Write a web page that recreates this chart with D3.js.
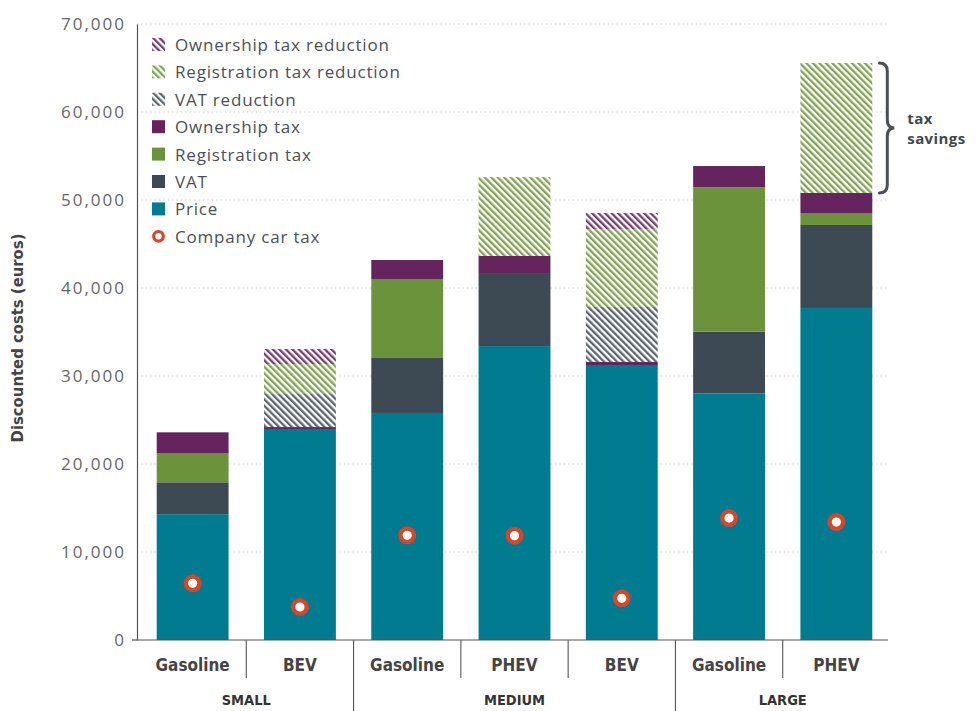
<!DOCTYPE html>
<html>
<head>
<meta charset="utf-8">
<script src="https://cdn.jsdelivr.net/npm/d3@7"></script>
<style>
    body { margin: 0; background: #fff; }
    svg { display: block; }
    .tick text { font-family: "Open Sans", sans-serif; }
</style>
</head>
<body>
<div id="root"></div>
<script>
// data (euros)
const categories = ["Gasoline", "BEV", "Gasoline", "PHEV", "BEV", "Gasoline", "PHEV"];
const groups = ["SMALL", "SMALL", "MEDIUM", "MEDIUM", "MEDIUM", "LARGE", "LARGE"];
const price    = [14300, 23980, 25800, 33400, 31250, 28030, 37730];
const vat      = [3620, 0, 6250, 8300, 0, 7010, 9430];
const regTax   = [3330, 0, 8970, 0, 0, 16400, 1360];
const ownTax   = [2350, 220, 2160, 1940, 350, 2420, 2280];
const vatRed   = [0, 3750, 0, 0, 6240, 0, 0];
const regRed   = [0, 3410, 0, 8960, 8860, 0, 14770];
const ownRed   = [0, 1710, 0, 0, 1820, 0, 0];
const companyCarTax = [6440, 3750, 11890, 11850, 4740, 13860, 13400];
const yTicks = [0, 10000, 20000, 30000, 40000, 50000, 60000, 70000];

const W = 976, H = 711;
const margin = { left: 137, right: 88, top: 24, bottom: 71 };

const svg = d3.select("#root").append("svg")
    .attr("width", W).attr("height", H);

const defs = svg.append("defs");
// hatch patterns, lines going down to the right
function hatch(id, color) {
    const p = defs.append("pattern")
        .attr("id", id)
        .attr("patternUnits", "userSpaceOnUse")
        .attr("width", 4.6).attr("height", 4.6)
        .attr("patternTransform", "rotate(-45)");
    p.append("rect").attr("width", 4.6).attr("height", 4.6).attr("fill", "#fff");
    p.append("rect").attr("width", 2.3).attr("height", 4.6).attr("fill", color);
}
hatch("h-own", "#7b3b73");
hatch("h-reg", "#7fa552");
hatch("h-vat", "#5b6570");

const series = [
    { key: "Price", values: price, fill: "#007b8f" },
    { key: "VAT", values: vat, fill: "#3e4a53" },
    { key: "Registration tax", values: regTax, fill: "#6b933b" },
    { key: "Ownership tax", values: ownTax, fill: "#66245f" },
    { key: "VAT reduction", values: vatRed, fill: "url(#h-vat)" },
    { key: "Registration tax reduction", values: regRed, fill: "url(#h-reg)" },
    { key: "Ownership tax reduction", values: ownRed, fill: "url(#h-own)" }
];

const x = d3.scaleBand()
    .domain(d3.range(categories.length))
    .range([margin.left + 2, W - margin.right + 2])
    .paddingInner(0.33).paddingOuter(0.165);

const y = d3.scaleLinear()
    .domain([0, 70000])
    .range([H - margin.bottom, margin.top]);

// dotted gridlines
svg.append("g").selectAll("line")
    .data(yTicks.filter(d => d > 0))
    .join("line")
    .attr("x1", margin.left).attr("x2", W - margin.right)
    .attr("y1", d => y(d)).attr("y2", d => y(d))
    .attr("stroke", "#c4c4c4")
    .attr("stroke-width", 1.2)
    .attr("stroke-dasharray", "1.2,3.2");

// stacked bars
const table = categories.map((c, i) => {
    const row = { i };
    series.forEach(s => row[s.key] = s.values[i]);
    return row;
});
const stacked = d3.stack().keys(series.map(s => s.key))(table);

svg.append("g").selectAll("g")
    .data(stacked)
    .join("g")
    .attr("fill", (d, k) => series[k].fill)
    .selectAll("rect")
    .data(d => d.filter(v => v[1] - v[0] > 0))
    .join("rect")
    .attr("x", d => x(d.data.i))
    .attr("width", x.bandwidth())
    .attr("y", d => y(d[1]))
    .attr("height", d => y(d[0]) - y(d[1]));

// company car tax markers
svg.append("g").selectAll("circle")
    .data(companyCarTax)
    .join("circle")
    .attr("cx", (d, i) => x(i) + x.bandwidth() * 0.5)
    .attr("cy", d => y(d))
    .attr("r", 6.8)
    .attr("fill", "#fff")
    .attr("stroke", "#d6462a")
    .attr("stroke-width", 4.4);

// y axis
const yAxis = d3.axisLeft(y)
    .tickValues(yTicks)
    .tickSize(0)
    .tickPadding(11)
    .tickFormat(d3.format(","));
const ya = svg.append("g")
    .attr("transform", `translate(${margin.left},0)`)
    .call(yAxis);
ya.select(".domain").attr("stroke", "#555").attr("stroke-width", 1.2);
ya.selectAll(".tick text")
    .attr("fill", "#666")
    .attr("font-size", 17)
    .attr("letter-spacing", 2);
// small tick at zero
svg.append("line")
    .attr("x1", margin.left - 5).attr("x2", margin.left)
    .attr("y1", y(0)).attr("y2", y(0))
    .attr("stroke", "#555").attr("stroke-width", 1.2);

// baseline
svg.append("line")
    .attr("x1", margin.left).attr("x2", W - margin.right)
    .attr("y1", y(0)).attr("y2", y(0))
    .attr("stroke", "#555").attr("stroke-width", 1.2);

// category separators
const base = y(0);
for (let i = 1; i < categories.length; i++) {
    const sx = x(i) - x.step() * x.paddingInner() / 2;
    const groupBreak = groups[i] !== groups[i - 1];
    svg.append("line")
        .attr("x1", sx).attr("x2", sx)
        .attr("y1", base).attr("y2", groupBreak ? H : base + 38)
        .attr("stroke", "#555").attr("stroke-width", 1.1);
}

const condFont = '"Liberation Sans Narrow", "DejaVu Sans Condensed", "Roboto", sans-serif';

// category labels
svg.append("g").selectAll("text")
    .data(categories)
    .join("text")
    .attr("x", (d, i) => x(i) + x.bandwidth() / 2)
    .attr("y", base + 31)
    .attr("text-anchor", "middle")
    .attr("font-family", condFont)
    .attr("font-weight", "bold")
    .attr("font-size", 17)
    .attr("fill", "#444")
    .text(d => d);

// group labels
const groupNames = Array.from(new Set(groups));
svg.append("g").selectAll("text")
    .data(groupNames)
    .join("text")
    .attr("x", g => {
        const idx = d3.range(groups.length).filter(i => groups[i] === g);
        return (x(idx[0]) + x(idx[idx.length - 1]) + x.bandwidth()) / 2;
    })
    .attr("y", H - 6)
    .attr("text-anchor", "middle")
    .attr("font-family", condFont)
    .attr("font-weight", "bold")
    .attr("font-size", 14.5)
    .attr("fill", "#333")
    .text(d => d);

// y axis title
svg.append("text")
    .attr("transform", `translate(23,${(y(0) + y(70000)) / 2 + 6}) rotate(-90)`)
    .attr("text-anchor", "middle")
    .attr("font-family", condFont)
    .attr("font-weight", "bold")
    .attr("font-size", 16.5)
    .attr("fill", "#444")
    .text("Discounted costs (euros)");

// legend
const legendItems = [
    { label: "Ownership tax reduction", fill: "url(#h-own)" },
    { label: "Registration tax reduction", fill: "url(#h-reg)" },
    { label: "VAT reduction", fill: "url(#h-vat)" },
    { label: "Ownership tax", fill: "#66245f" },
    { label: "Registration tax", fill: "#6b933b" },
    { label: "VAT", fill: "#3e4a53" },
    { label: "Price", fill: "#007b8f" },
    { label: "Company car tax", marker: true }
];
const lg = svg.append("g").attr("transform", "translate(152,45)");
const li = lg.selectAll("g")
    .data(legendItems)
    .join("g")
    .attr("transform", (d, i) => `translate(0,${i * 27.4})`);
li.filter(d => !d.marker).append("rect")
    .attr("x", 0).attr("y", -7)
    .attr("width", 13).attr("height", 13)
    .attr("fill", d => d.fill);
li.filter(d => d.marker).append("circle")
    .attr("cx", 6.5).attr("cy", -0.5)
    .attr("r", 4.8)
    .attr("fill", "#fff")
    .attr("stroke", "#d6462a")
    .attr("stroke-width", 3.2);
li.append("text")
    .attr("x", 23).attr("y", 0)
    .attr("dy", "0.35em")
    .attr("font-family", '"Open Sans", sans-serif')
    .attr("font-size", 17)
    .attr("letter-spacing", 0.8)
    .attr("fill", "#4b5056")
    .text(d => d.label);

// tax savings brace on the last bar
const last = categories.length - 1;
const topV = d3.sum(series, s => s.values[last]);
const botV = topV - vatRed[last] - regRed[last] - ownRed[last];
const bx = x(last) + x.bandwidth() + 7;
const y0 = y(topV), y1 = y(botV), ym = (y0 + y1) / 2;
svg.append("path")
    .attr("d", `M${bx},${y0} Q${bx + 8},${y0} ${bx + 8},${y0 + 8} L${bx + 8},${ym - 8}`
        + ` Q${bx + 8},${ym} ${bx + 15},${ym} Q${bx + 8},${ym} ${bx + 8},${ym + 8}`
        + ` L${bx + 8},${y1 - 8} Q${bx + 8},${y1} ${bx},${y1}`)
    .attr("fill", "none")
    .attr("stroke", "#4a5058")
    .attr("stroke-width", 3)
    .attr("stroke-linecap", "round");
["tax", "savings"].forEach((t, k) => {
    svg.append("text")
        .attr("x", bx + 28).attr("y", ym - 4 + k * 20)
        .attr("font-family", '"Open Sans", sans-serif')
        .attr("font-weight", "bold")
        .attr("font-size", 15)
        .attr("letter-spacing", 0.4)
        .attr("fill", "#3e4a53")
        .text(t);
});
</script>
</body>
</html>
